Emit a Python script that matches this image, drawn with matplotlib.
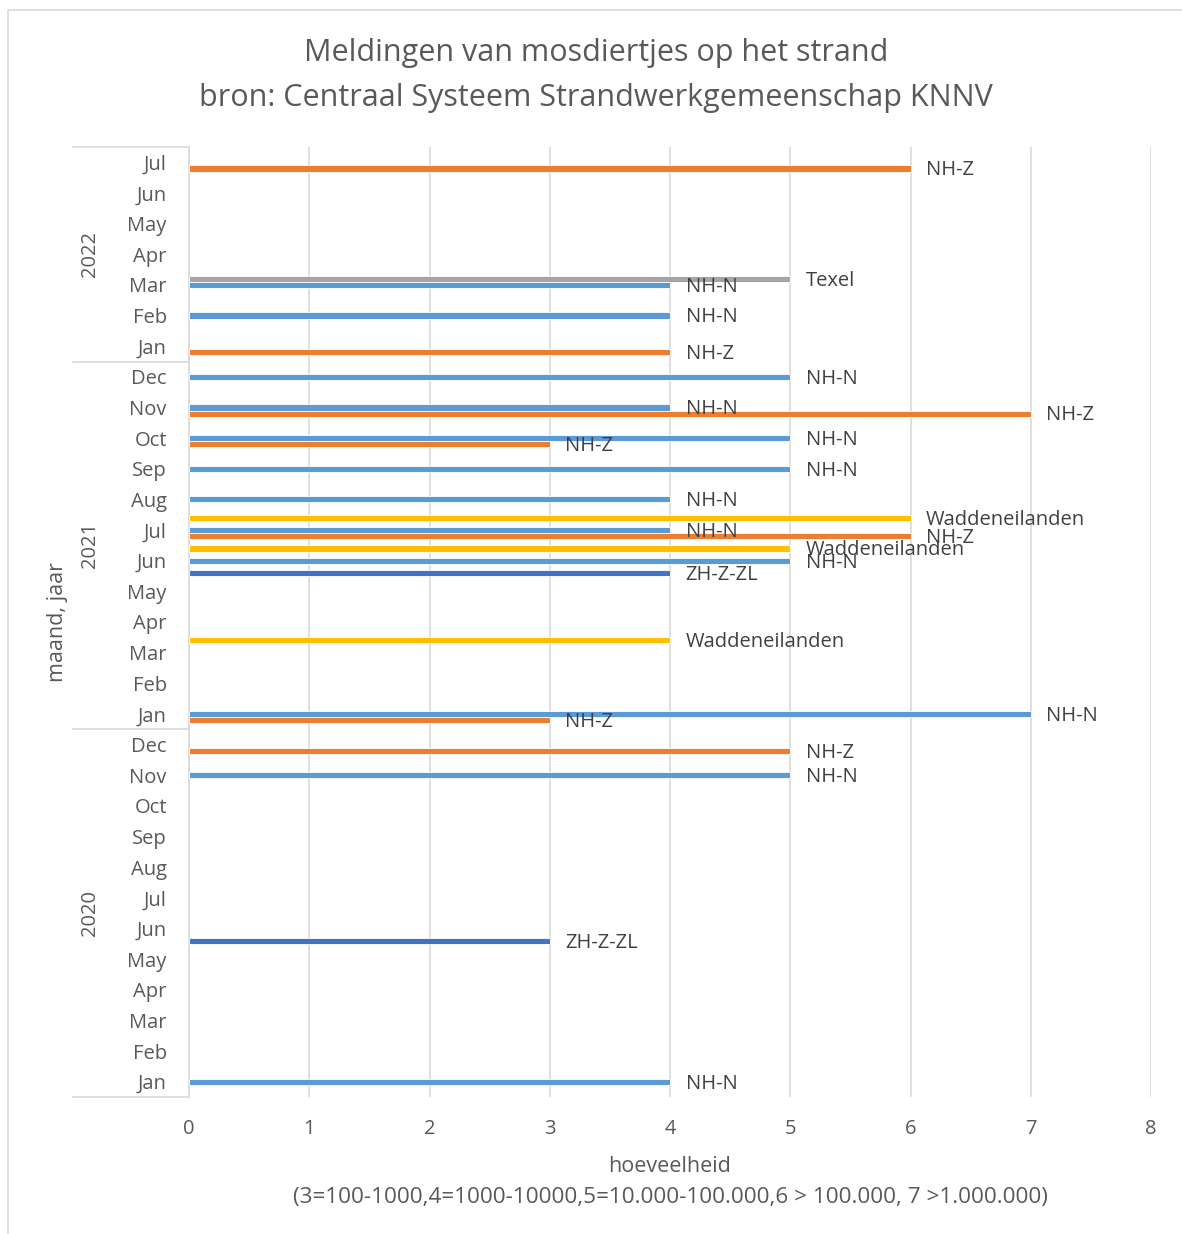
import matplotlib.pyplot as plt
from matplotlib.patches import Rectangle
from matplotlib.lines import Line2D
import numpy as np

plt.rcParams['font.family'] = ['Open Sans', 'DejaVu Sans']

# months Jan 2020 .. Jul 2022, bottom to top
months = ['Jan', 'Feb', 'Mar', 'Apr', 'May', 'Jun', 'Jul', 'Aug', 'Sep', 'Oct', 'Nov', 'Dec'] * 2 + \
         ['Jan', 'Feb', 'Mar', 'Apr', 'May', 'Jun', 'Jul']
years = ['2020', '2021', '2022']
n = len(months)

# hoeveelheid per region (None = no report that month)
zh_z_zl = [None] * n
nh_z = [None] * n
nh_n = [None] * n
texel = [None] * n
wadden = [None] * n

nh_n[0] = 4
zh_z_zl[5] = 3
nh_n[10] = 5
nh_z[11] = 5
nh_n[12] = 7
nh_z[12] = 3
wadden[14] = 4
zh_z_zl[17] = 4
nh_n[17] = 5
wadden[17] = 5
nh_z[18] = 6
nh_n[18] = 4
wadden[18] = 6
nh_n[19] = 4
nh_n[20] = 5
nh_z[21] = 3
nh_n[21] = 5
nh_z[22] = 7
nh_n[22] = 4
nh_n[23] = 5
nh_z[24] = 4
nh_n[25] = 4
nh_n[26] = 4
texel[26] = 5
nh_z[30] = 6

series = [('ZH-Z-ZL', zh_z_zl, '#4472C4'),
          ('NH-Z', nh_z, '#ED7D31'),
          ('NH-N', nh_n, '#5B9BD5'),
          ('Texel', texel, '#A5A5A5'),
          ('Waddeneilanden', wadden, '#FFC000')]

fig = plt.figure(figsize=(11.82, 12.34), dpi=100)
W, H = 1182, 1234
ax = fig.add_axes([189 / W, 1 - 1097 / H, 962 / W, 950 / H])

# chart border
fig.patches.append(Rectangle((8 / W, -0.1), 1.2, 1 - 10 / H + 0.1, transform=fig.transFigure,
                             fill=False, edgecolor='#D9D9D9', linewidth=1.2))

bw = 1 / len(series)
y = np.arange(n)
for k, (name, vals, col) in enumerate(series):
    off = (k - (len(series) - 1) / 2) * bw
    for i, v in enumerate(vals):
        if v is None:
            continue
        ax.barh(i + off, v, height=bw, color=col, edgecolor='white', linewidth=0.6, zorder=3)
        ax.text(v + 0.13, i + off - 0.06, name, va='center', ha='left', fontsize=14.5,
                color='#404040', zorder=4)

ax.set_xlim(0, 8)
ax.set_ylim(-0.5, n - 0.5)
ax.set_xticks(range(9))
ax.set_yticks(y)
ax.set_yticklabels(months)
ax.tick_params(axis='both', length=0, labelsize=14.5, labelcolor='#595959')
ax.tick_params(axis='y', pad=16)
ax.tick_params(axis='x', pad=15.5)
ax.grid(axis='x', color='#D9D9D9', linewidth=1.2, zorder=0)
for s in ['top', 'right', 'bottom']:
    ax.spines[s].set_visible(False)
ax.spines['left'].set_color('#D9D9D9')
ax.spines['left'].set_linewidth(1.2)

# year level of the category axis
bounds = [-0.5, 11.5, 23.5, n - 0.5]
sep_x = -116 / 962
for b in bounds:
    ax.add_line(Line2D([sep_x, 0], [b, b], transform=ax.get_yaxis_transform(),
                       color='#D9D9D9', linewidth=1.2, clip_on=False))
for j, yr in enumerate(years):
    ax.text(-99 / 962, (bounds[j] + bounds[j + 1]) / 2, yr, transform=ax.get_yaxis_transform(),
            rotation=90, ha='center', va='center', fontsize=14.5, color='#595959')

ax.text(-132 / 962, 0.5, 'maand, jaar', transform=ax.transAxes, rotation=90,
        ha='center', va='center', fontsize=15.5, color='#595959')
ax.text(0.5, -69 / 950, 'hoeveelheid', transform=ax.transAxes,
        ha='center', va='center', fontsize=15.5, color='#595959')
ax.text(0.5, -100 / 950, '(3=100-1000,4=1000-10000,5=10.000-100.000,6 > 100.000, 7 >1.000.000)',
        transform=ax.transAxes, ha='center', va='center', fontsize=16.2, color='#595959')

fig.text(596 / W, 1 - 53 / H, 'Meldingen van mosdiertjes op het strand', ha='center', va='center',
         fontsize=22, color='#595959')
fig.text(596 / W, 1 - 98 / H, 'bron: Centraal Systeem Strandwerkgemeenschap KNNV', ha='center',
         va='center', fontsize=22, color='#595959')

fig.savefig('out.png', dpi=100)
